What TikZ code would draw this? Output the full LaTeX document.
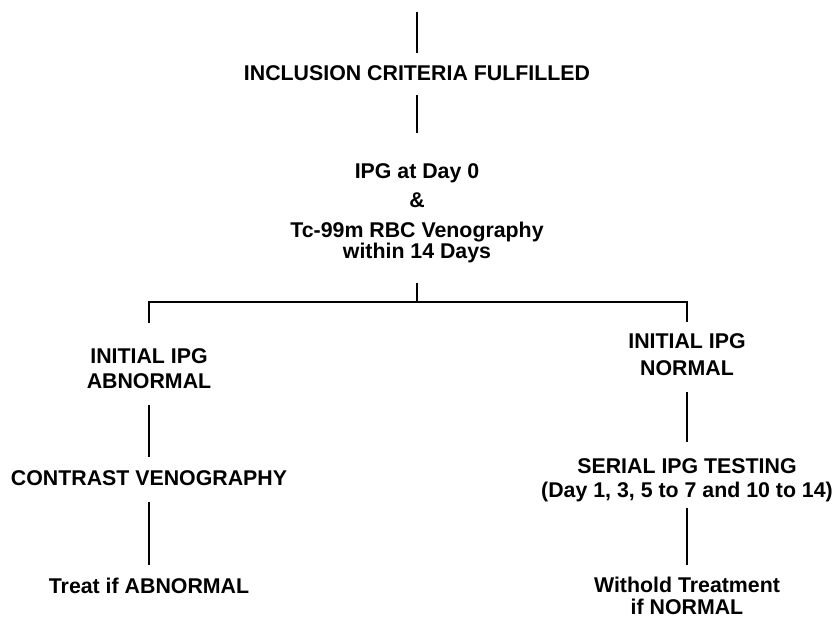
\documentclass[tikz,border=0pt]{standalone}
\usepackage{fontspec}
\setmainfont{Liberation Sans}

\begin{document}
\begin{tikzpicture}[x=0.75pt,y=-0.75pt,
  stage/.style={anchor=base, align=center, inner sep=0pt, font=\fontsize{16}{17}\selectfont\bfseries},
  link/.style={line width=2.2pt}]
  \path[use as bounding box] (0,0) rectangle (840,618);
  % trunk
  \coordinate (start) at (417,12);
  \node[stage] (incl) at (417,80) {INCLUSION CRITERIA FULFILLED};
  \node[stage] (ipg) at (417,258) {IPG at Day 0\\[4.75pt] \&\\[5.5pt] Tc-99m RBC Venography\\[-1.25pt] within 14 Days};
  \coordinate (split) at (417,302);
  % left branch
  \node[stage] (abn) at (149,388) {INITIAL IPG\\[1.75pt] ABNORMAL};
  \node[stage] (contrast) at (149,485) {CONTRAST VENOGRAPHY};
  \node[stage] (treat) at (149,593) {Treat if ABNORMAL};
  % right branch
  \node[stage] (norm) at (687,375) {INITIAL IPG\\[3.25pt] NORMAL};
  \node[stage] (serial) at (687,497) {SERIAL IPG TESTING\\[1pt] (Day 1, 3, 5 to 7 and 10 to 14)};
  \node[stage] (withold) at (687,614) {Withold Treatment\\[-0.5pt] if NORMAL};
  % connectors
  \draw[link, shorten >=8.8pt] (start) -- (incl.north);
  \draw[link, shorten <=11.25pt, shorten >=22.3pt] (incl.south) -- (ipg.north);
  \draw[link, shorten <=15.4pt] (ipg.south) -- (split);
  \draw[link, shorten <=18.5pt, shorten >=8pt] (abn.north) |- (split) -| (norm.north);
  \draw[link, shorten <=12.75pt, shorten >=9.5pt] (abn.south) -- (contrast.north);
  \draw[link, shorten <=12.75pt, shorten >=9.4pt] (contrast.south) -- (treat.north);
  \draw[link, shorten <=12.75pt, shorten >=11.8pt] (norm.south) -- (serial.north);
  \draw[link, shorten <=4.9pt, shorten >=8.6pt] (serial.south) -- (withold.north);
\end{tikzpicture}
\end{document}
